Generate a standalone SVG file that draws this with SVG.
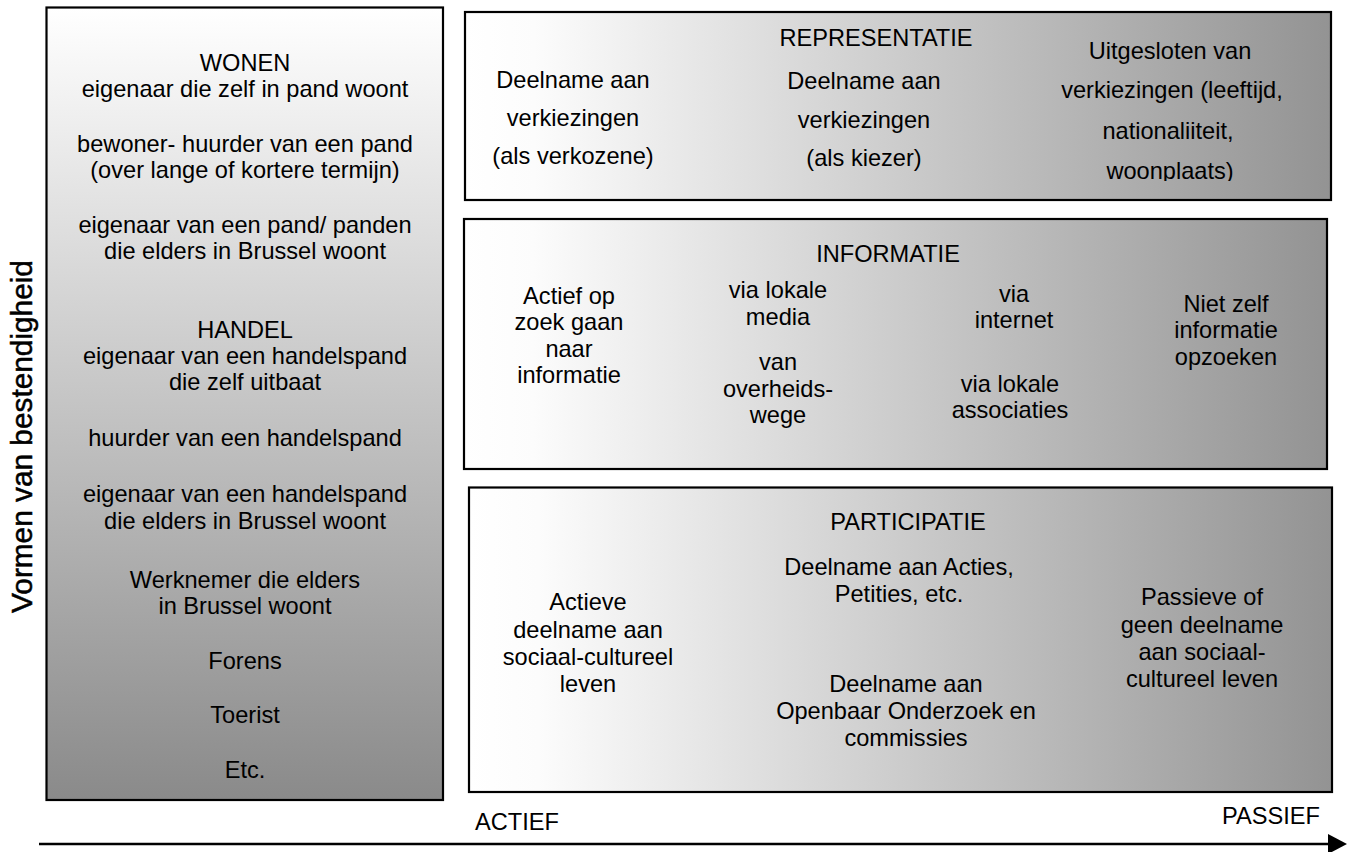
<svg xmlns="http://www.w3.org/2000/svg" width="1350" height="852" viewBox="0 0 1350 852">
  <defs>
    <linearGradient id="gradVertical" x1="0" y1="0" x2="0" y2="1">
      <stop offset="0" stop-color="#ffffff"/>
      <stop offset="1" stop-color="#8a8a8a"/>
    </linearGradient>
    <linearGradient id="gradHorizontal" x1="0" y1="0" x2="1" y2="0">
      <stop offset="0" stop-color="#ffffff"/>
      <stop offset="0.08" stop-color="#fcfcfc"/>
      <stop offset="1" stop-color="#939393"/>
    </linearGradient>
    <clipPath id="clipExcluded">
      <rect x="1040" y="20" width="280" height="161"/>
    </clipPath>
    <marker id="arrowHead" markerWidth="19" markerHeight="20" refX="0" refY="10" orient="auto" markerUnits="userSpaceOnUse">
      <path d="M0,0 L19,10 L0,20 Z" fill="#000"/>
    </marker>
  </defs>
  <style>
    .box { stroke: #000; stroke-width: 2.2; }
    .lbl { font-family: "Liberation Sans", Arial, sans-serif; font-size: 23.6px; fill: #000; text-anchor: middle; }
    .axis { font-family: "Liberation Sans", Arial, sans-serif; font-size: 23.6px; fill: #000; }
    .side { font-family: "Liberation Sans", Arial, sans-serif; font-size: 29.8px; fill: #000; text-anchor: middle; stroke: #000; stroke-width: 0.5; }
  </style>

  <rect width="1350" height="852" fill="#ffffff"/>

  <!-- vertical axis title -->
  <g id="axis-title">
    <text class="side" transform="translate(32,436.5) rotate(-90)">Vormen van bestendigheid</text>
  </g>

  <!-- left column: forms of permanence -->
  <g id="bestendigheid">
    <rect class="box" x="46.5" y="7.5" width="396.5" height="792.5" fill="url(#gradVertical)"/>
    <text class="lbl" x="245" y="71">WONEN</text>
    <text class="lbl" x="245" y="97">eigenaar die zelf in pand woont</text>
    <text class="lbl" x="245" y="152">bewoner- huurder van een pand</text>
    <text class="lbl" x="245" y="178">(over lange of kortere termijn)</text>
    <text class="lbl" x="245" y="233">eigenaar van een pand/ panden</text>
    <text class="lbl" x="245" y="259">die elders in Brussel woont</text>
    <text class="lbl" x="245" y="338">HANDEL</text>
    <text class="lbl" x="245" y="364">eigenaar van een handelspand</text>
    <text class="lbl" x="245" y="390">die zelf uitbaat</text>
    <text class="lbl" x="245" y="446">huurder van een handelspand</text>
    <text class="lbl" x="245" y="502">eigenaar van een handelspand</text>
    <text class="lbl" x="245" y="529">die elders in Brussel woont</text>
    <text class="lbl" x="245" y="588">Werknemer die elders</text>
    <text class="lbl" x="245" y="614">in Brussel woont</text>
    <text class="lbl" x="245" y="669">Forens</text>
    <text class="lbl" x="245" y="723">Toerist</text>
    <text class="lbl" x="245" y="778">Etc.</text>
  </g>

  <!-- representation -->
  <g id="representatie">
    <rect class="box" x="465" y="12" width="866" height="188" fill="url(#gradHorizontal)"/>
    <text class="lbl" x="876" y="46">REPRESENTATIE</text>
    <text class="lbl" x="573" y="88">Deelname aan</text>
    <text class="lbl" x="573" y="126">verkiezingen</text>
    <text class="lbl" x="573" y="164">(als verkozene)</text>
    <text class="lbl" x="864" y="89">Deelname aan</text>
    <text class="lbl" x="864" y="128">verkiezingen</text>
    <text class="lbl" x="864" y="166">(als kiezer)</text>
    <g clip-path="url(#clipExcluded)">
      <text class="lbl" x="1170" y="59">Uitgesloten van</text>
      <text class="lbl" x="1172" y="98">verkiezingen (leeftijd,</text>
      <text class="lbl" x="1168" y="139">nationaliiteit,</text>
      <text class="lbl" x="1170" y="179">woonplaats)</text>
    </g>
  </g>

  <!-- information -->
  <g id="informatie">
    <rect class="box" x="464" y="219" width="863" height="250" fill="url(#gradHorizontal)"/>
    <text class="lbl" x="888" y="262">INFORMATIE</text>
    <text class="lbl" x="569" y="304">Actief op</text>
    <text class="lbl" x="569" y="330">zoek gaan</text>
    <text class="lbl" x="569" y="357">naar</text>
    <text class="lbl" x="569" y="383">informatie</text>
    <text class="lbl" x="778" y="298">via lokale</text>
    <text class="lbl" x="778" y="325">media</text>
    <text class="lbl" x="778" y="370">van</text>
    <text class="lbl" x="778" y="397">overheids-</text>
    <text class="lbl" x="778" y="423">wege</text>
    <text class="lbl" x="1014" y="302">via</text>
    <text class="lbl" x="1014" y="328">internet</text>
    <text class="lbl" x="1010" y="392">via lokale</text>
    <text class="lbl" x="1010" y="418">associaties</text>
    <text class="lbl" x="1226" y="312">Niet zelf</text>
    <text class="lbl" x="1226" y="338">informatie</text>
    <text class="lbl" x="1226" y="365">opzoeken</text>
  </g>

  <!-- participation -->
  <g id="participatie">
    <rect class="box" x="469" y="487.5" width="863" height="304.5" fill="url(#gradHorizontal)"/>
    <text class="lbl" x="908" y="530">PARTICIPATIE</text>
    <text class="lbl" x="899" y="575">Deelname aan Acties,</text>
    <text class="lbl" x="899" y="602">Petities, etc.</text>
    <text class="lbl" x="588" y="610">Actieve</text>
    <text class="lbl" x="588" y="638">deelname aan</text>
    <text class="lbl" x="588" y="665">sociaal-cultureel</text>
    <text class="lbl" x="588" y="692">leven</text>
    <text class="lbl" x="906" y="692">Deelname aan</text>
    <text class="lbl" x="906" y="719">Openbaar Onderzoek en</text>
    <text class="lbl" x="906" y="746">commissies</text>
    <text class="lbl" x="1202" y="605">Passieve of</text>
    <text class="lbl" x="1202" y="633">geen deelname</text>
    <text class="lbl" x="1202" y="660">aan sociaal-</text>
    <text class="lbl" x="1202" y="687">cultureel leven</text>
  </g>

  <!-- horizontal axis labels -->
  <g id="axis-labels">
    <text class="axis" x="475" y="830">ACTIEF</text>
    <text class="axis" x="1222" y="824">PASSIEF</text>
  </g>

  <!-- connectors -->
  <g id="connectors">
    <line x1="39" y1="844" x2="1328" y2="844" stroke="#000" stroke-width="2.6" marker-end="url(#arrowHead)"/>
  </g>
</svg>
